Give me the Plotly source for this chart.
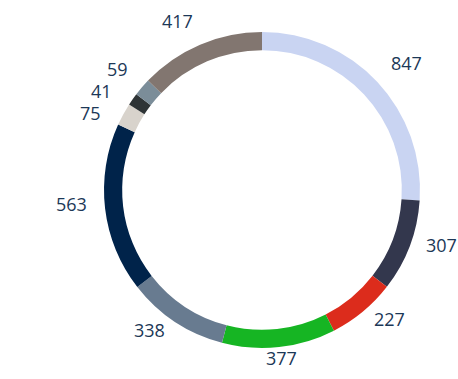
import numpy as np
import plotly.graph_objects as go

# Segment values, clockwise from 12 o'clock
categories = ["A", "B", "C", "D", "E", "F", "G", "H", "I", "J"]
values = [847, 307, 227, 377, 338, 563, 75, 41, 59, 417]
colors = ["#c9d4f2", "#33374d", "#dc2c1c", "#16b523", "#687b90",
          "#00234a", "#d8d3cc", "#2e3436", "#7b8d99", "#827670"]

W, H = 458, 379
cx, cy, r = 262, 190, 158          # ring centre and outer radius (px)
label_r = r + 18                   # radius of the label track
label_cy = cy - 7                  # label track sits slightly higher
min_gap = 22                       # minimum vertical spacing between labels
font_size = 18
label_color = "#1c3857"
char_w = 0.572 * font_size         # approx. digit advance in Open Sans

fig = go.Figure(go.Pie(
    labels=categories,
    values=values,
    marker=dict(colors=colors, line=dict(width=0)),
    hole=0.885,
    sort=False,
    direction="clockwise",
    rotation=0,
    textinfo="none",
    hoverinfo="label+value",
    showlegend=False,
    domain=dict(x=[(cx - r) / W, (cx + r) / W],
                y=[(H - cy - r) / H, (H - cy + r) / H]),
))

# Value labels: natural height from each slice's mid-angle, pushed down
# where they would collide, then placed on the label circle at that height.
vals = np.asarray(values, dtype=float)
frac_mid = (np.cumsum(vals) - vals / 2) / vals.sum()
theta = 2 * np.pi * frac_mid
s, c = np.sin(theta), np.cos(theta)
ly = label_cy - label_r * c

for side in (s >= 0, s < 0):
    idx = sorted(np.where(side)[0], key=lambda i: ly[i])
    for a, b in zip(idx[:-1], idx[1:]):
        ly[b] = max(ly[b], ly[a] + min_gap)

for i, v in enumerate(values):
    txt = str(v)
    tw = char_w * len(txt)
    dy = ly[i] - label_cy
    if abs(s[i]) < 0.3:
        # near the top or bottom: centre the text over the slice
        x, anchor = cx + label_r * s[i], "center"
    else:
        dx = np.sqrt(max(label_r ** 2 - dy ** 2, 0.0))
        if s[i] >= 0:
            x, anchor = min(cx + dx, W - tw - 1), "left"
        else:
            x, anchor = max(cx - dx, tw + 1), "right"
    fig.add_annotation(
        x=x / W, y=1 - ly[i] / H, xref="paper", yref="paper",
        text=txt, showarrow=False,
        xanchor=anchor, yanchor="middle", borderpad=0, borderwidth=0,
        font=dict(family="Open Sans", size=font_size, color=label_color),
    )

fig.update_layout(
    width=W, height=H,
    margin=dict(l=0, r=0, t=0, b=0),
    paper_bgcolor="white",
    plot_bgcolor="white",
)

fig.write_html("out.html")
